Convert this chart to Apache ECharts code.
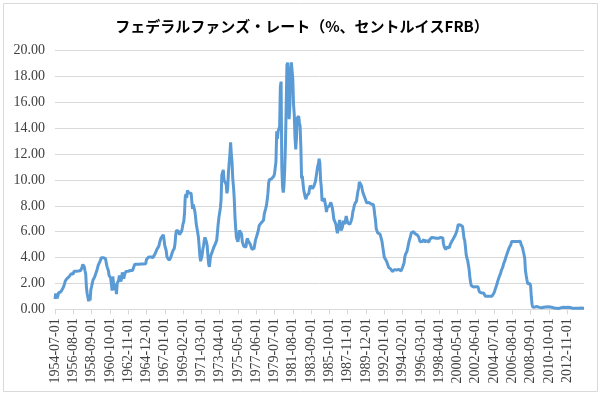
<!DOCTYPE html>
<html><head><meta charset="utf-8">
<script src="https://cdn.jsdelivr.net/npm/echarts@6/dist/echarts.min.js"></script>
<style>html,body{margin:0;padding:0;background:#fff}#c{width:604px;height:397px}</style>
</head><body><div id="c"></div>
<script>
const title = 'フェデラルファンズ・レート（%、セントルイスFRB）';
const startYear = 1954, startMonth = 7;
const yTicks = [0, 2, 4, 6, 8, 10, 12, 14, 16, 18, 20];
// Monthly values, 1954-07 onward
const v1950s = [0.80,1.22,1.07,0.85,0.83,1.28,
1.39,1.29,1.35,1.43,1.43,1.64,1.68,1.96,2.18,2.24,2.35,2.48,
2.45,2.50,2.50,2.62,2.75,2.71,2.75,2.73,2.95,2.96,2.88,2.94,
2.84,3.00,2.96,3.00,3.00,3.00,2.99,3.24,3.47,3.50,3.28,2.98,
2.72,1.67,1.20,1.26,0.63,0.93,0.68,1.53,1.76,1.80,2.27,2.42,
2.48,2.43,2.80,2.96,2.90,3.39,3.47,3.50,3.76,3.98,4.00,3.99];
const v1960s = [3.99,3.97,3.84,3.92,3.85,3.32,3.23,2.98,2.60,2.47,2.44,1.98,
1.45,2.54,2.02,1.49,1.98,1.73,1.17,2.00,1.88,2.26,2.61,2.33,
2.15,2.37,2.85,2.78,2.36,2.68,2.71,2.93,2.90,2.90,2.94,2.93,
2.92,3.00,2.98,2.90,3.00,2.99,3.02,3.49,3.48,3.50,3.48,3.38,
3.48,3.48,3.43,3.47,3.50,3.50,3.42,3.50,3.45,3.36,3.52,3.85,
3.90,3.98,4.04,4.09,4.10,4.04,4.09,4.12,4.01,4.08,4.10,4.32,
4.42,4.60,4.65,4.67,4.90,5.17,5.30,5.53,5.40,5.53,5.76,5.40,
4.94,5.00,4.53,4.05,3.94,3.98,3.79,3.90,3.99,3.88,4.13,4.51,
4.61,4.71,5.05,5.76,6.11,6.07,6.02,6.03,5.78,5.91,5.82,6.02,
6.30,6.61,6.79,7.41,8.67,8.90,8.61,9.19,9.15,9.00,8.85,8.97];
const v1970s = [8.98,8.98,7.76,8.10,7.95,7.61,7.21,6.61,6.29,6.20,5.60,4.90,
4.14,3.72,3.71,4.16,4.63,4.91,5.31,5.56,5.55,5.20,4.91,4.14,
3.50,3.29,3.83,4.17,4.27,4.46,4.55,4.80,4.87,5.04,5.06,5.33,
5.94,6.58,7.09,7.12,7.84,8.49,10.40,10.50,10.78,10.01,10.03,9.95,
9.65,8.97,9.35,10.51,11.31,11.93,12.92,12.01,11.34,10.06,9.45,8.53,
7.13,6.24,5.54,5.49,5.22,5.55,6.10,6.14,6.24,5.82,5.22,5.20,
4.87,4.77,4.84,4.82,5.29,5.48,5.31,5.29,5.25,5.02,4.95,4.65,
4.61,4.68,4.69,4.73,5.35,5.39,5.42,5.90,6.14,6.47,6.51,6.56,
6.70,6.78,6.79,6.89,7.36,7.60,7.81,8.04,8.45,8.96,9.76,10.03,
10.07,10.06,10.09,10.01,10.24,10.29,10.47,10.94,11.43,13.77,13.18,13.78];
const v1980s = [13.82,14.13,17.19,17.61,10.98,9.47,9.03,9.61,10.87,12.81,15.85,18.90,
19.08,15.93,14.70,15.72,18.52,19.10,19.04,17.82,15.87,15.08,13.31,12.37,
13.22,14.78,14.68,14.94,14.45,14.15,12.59,10.12,10.31,9.71,9.20,8.95,
8.68,8.51,8.77,8.80,8.63,8.98,9.37,9.56,9.45,9.48,9.34,9.47,
9.56,9.59,9.91,10.29,10.32,11.06,11.23,11.64,11.30,9.99,9.43,8.38,
8.35,8.50,8.58,8.27,7.97,7.53,7.88,7.90,7.92,7.99,8.05,8.27,
8.14,7.86,7.48,6.99,6.85,6.92,6.56,6.17,5.89,5.85,6.04,6.91,
6.43,6.10,6.13,6.37,6.85,6.73,6.58,6.73,7.22,7.29,6.69,6.77,
6.83,6.58,6.58,6.87,7.09,7.51,7.75,8.01,8.19,8.30,8.35,8.76,
9.12,9.36,9.85,9.84,9.81,9.53,9.24,8.99,9.02,8.84,8.55,8.45];
const v1990s = [8.23,8.24,8.28,8.26,8.18,8.29,8.15,8.13,8.20,8.11,7.81,7.31,
6.91,6.25,6.12,5.91,5.78,5.90,5.82,5.66,5.45,5.21,4.81,4.43,
4.03,4.06,3.98,3.73,3.82,3.76,3.25,3.30,3.22,3.10,3.09,2.92,
3.02,3.03,3.07,2.96,3.00,3.04,3.06,3.03,3.09,2.99,3.02,2.96,
3.05,3.25,3.34,3.56,4.01,4.25,4.26,4.47,4.73,4.76,5.29,5.45,
5.53,5.92,5.98,6.05,6.01,6.00,5.85,5.74,5.80,5.76,5.80,5.60,
5.56,5.22,5.31,5.22,5.24,5.27,5.40,5.22,5.30,5.24,5.31,5.29,
5.25,5.19,5.39,5.51,5.50,5.56,5.52,5.54,5.54,5.50,5.52,5.50,
5.56,5.51,5.49,5.45,5.49,5.56,5.54,5.55,5.51,5.07,4.83,4.68,
4.63,4.76,4.81,4.74,4.74,4.76,4.99,5.07,5.22,5.20,5.42,5.30];
const v2000s = [5.45,5.73,5.85,6.02,6.27,6.53,6.54,6.50,6.52,6.51,6.51,6.40,
5.98,5.49,5.31,4.80,4.21,3.97,3.77,3.65,3.07,2.49,2.09,1.82,
1.73,1.74,1.73,1.75,1.75,1.75,1.73,1.74,1.75,1.75,1.34,1.24,
1.24,1.26,1.25,1.26,1.26,1.22,1.01,1.03,1.01,1.01,1.00,0.98,
1.00,1.01,1.00,1.00,1.00,1.03,1.26,1.43,1.61,1.76,1.93,2.16,
2.28,2.50,2.63,2.79,3.00,3.04,3.26,3.50,3.62,3.78,4.00,4.16,
4.29,4.49,4.59,4.79,4.94,4.99,5.24,5.25,5.25,5.25,5.25,5.24,
5.25,5.26,5.26,5.25,5.25,5.25,5.26,5.02,4.94,4.76,4.49,4.24,
3.94,2.98,2.61,2.28,1.98,2.00,2.01,2.00,1.81,0.97,0.39,0.16,
0.15,0.22,0.18,0.15,0.18,0.21,0.16,0.16,0.15,0.12,0.12,0.12];
const v2010s = [0.11,0.13,0.16,0.20,0.20,0.18,0.18,0.19,0.19,0.19,0.19,0.18,
0.17,0.16,0.14,0.10,0.09,0.09,0.07,0.10,0.08,0.07,0.08,0.07,
0.08,0.10,0.13,0.14,0.16,0.16,0.16,0.13,0.14,0.16,0.16,0.16,
0.14,0.15,0.14,0.15,0.11,0.09,0.09,0.08,0.08,0.09,0.08,0.09,
0.07,0.07,0.08,0.09,0.09,0.10,0.09,0.09,0.09,0.09];

const values = [].concat(v1950s, v1960s, v1970s, v1980s, v1990s, v2000s, v2010s);
const categories = values.map((_, i) => {
  const m = startMonth - 1 + i;
  const y = startYear + Math.floor(m / 12);
  const mm = (m % 12) + 1;
  return y + '-' + (mm < 10 ? '0' : '') + mm + '-01';
});

const chart = echarts.init(document.getElementById('c'), null, {renderer: 'canvas'});
chart.setOption({
  animation: false,
  backgroundColor: '#fff',
  title: {
    text: title, left: 'center', top: 14,
    textStyle: {fontFamily: '"Noto Sans CJK JP"', fontSize: 15, fontWeight: 'bold', color: '#000'}
  },
  graphic: [{
    type: 'rect', shape: {x: 3.5, y: 3.5, width: 594, height: 388},
    style: {fill: 'none', stroke: '#d9d9d9', lineWidth: 1}, silent: true, z: -1
  }],
  grid: {left: 55, right: 20, top: 50.7, bottom: 87.7, containLabel: false},
  xAxis: {
    type: 'category', data: categories, boundaryGap: false,
    axisLine: {lineStyle: {color: '#d9d9d9'}},
    axisTick: {interval: 24, length: 5, lineStyle: {color: '#d9d9d9'}},
    axisLabel: {interval: 24, rotate: 90, fontFamily: '"Liberation Serif"', fontSize: 14, color: '#404040', margin: 9}
  },
  yAxis: {
    type: 'value', min: 0, max: 20, interval: 2,
    axisLine: {show: false}, axisTick: {show: false},
    splitLine: {lineStyle: {color: '#d9d9d9'}},
    axisLabel: {formatter: v => v.toFixed(2), fontFamily: '"Liberation Serif"', fontSize: 14, color: '#404040', margin: 10}
  },
  series: [{
    type: 'line', data: values, showSymbol: false, symbol: 'none',
    lineStyle: {color: '#5B9BD5', width: 3}
  }]
});
</script></body></html>
